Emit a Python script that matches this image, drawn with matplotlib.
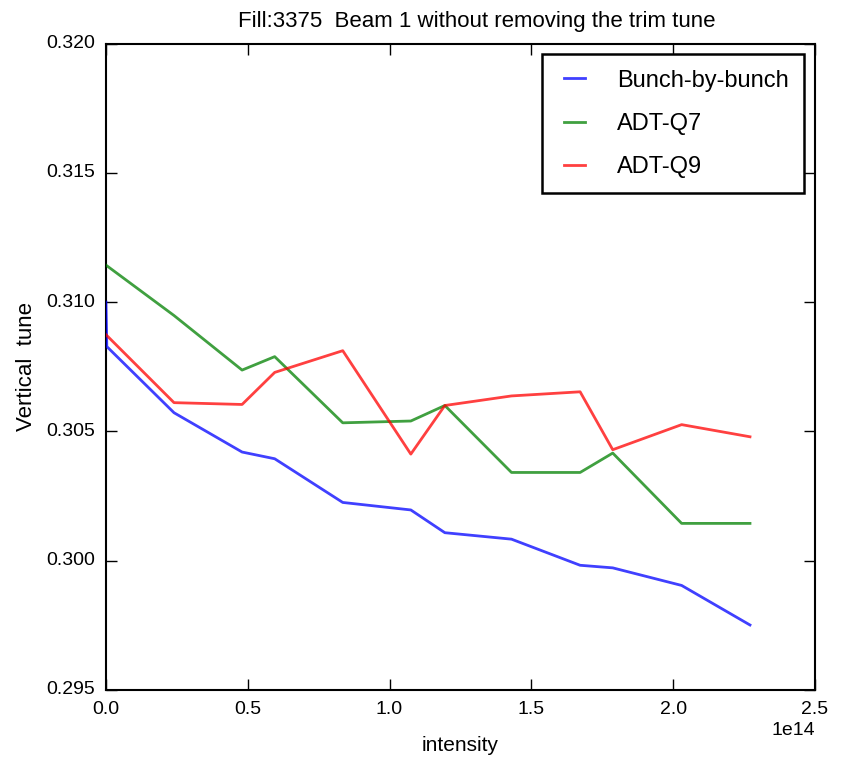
import matplotlib
matplotlib.use('Agg')
import matplotlib.pyplot as plt

plt.style.use('classic')
plt.rcParams['font.family'] = ['Liberation Sans', 'DejaVu Sans']

# intensity in units of 1e14 protons
intensity = [0.0, 0.24, 0.48, 0.595, 0.835, 1.075, 1.195, 1.43, 1.672, 1.787, 2.03, 2.271]

# bunch-by-bunch has an extra sample right at zero intensity
bbb_intensity = [0.0, 0.003] + intensity[1:]
bbb_tune = [0.3100, 0.30828, 0.30572, 0.30420, 0.30394, 0.30225, 0.30196,
            0.30108, 0.30083, 0.29982, 0.29972, 0.29904, 0.29751]
adt_q7 = [0.31143, 0.30948, 0.30737, 0.30789, 0.30533, 0.30540, 0.30600,
          0.30341, 0.30341, 0.30416, 0.30144, 0.30144]
adt_q9 = [0.30874, 0.30611, 0.30604, 0.30728, 0.30812, 0.30412, 0.30600,
          0.30637, 0.30653, 0.30429, 0.30526, 0.30479]

fig = plt.figure(figsize=(8.41, 7.64), dpi=100, facecolor='white')
ax = fig.add_axes([0.126, 0.097, 0.843, 0.846])

ax.plot([v * 1e14 for v in bbb_intensity], bbb_tune, color='b', alpha=0.75, lw=2,
        zorder=3, label='Bunch-by-bunch')
ax.plot([v * 1e14 for v in intensity], adt_q7, color='g', alpha=0.75, lw=2,
        zorder=3, label='ADT-Q7')
ax.plot([v * 1e14 for v in intensity], adt_q9, color='r', alpha=0.75, lw=2,
        zorder=3, label='ADT-Q9')

ax.set_xlim(0, 2.5e14)
ax.set_ylim(0.295, 0.320)
ax.set_yticks([0.295, 0.300, 0.305, 0.310, 0.315, 0.320])
ax.set_yticklabels(['0.295', '0.300', '0.305', '0.310', '0.315', '0.320'])
ax.tick_params(labelsize=14, length=8, width=1, pad=8)
ax.tick_params(which='minor', length=0)
ax.xaxis.get_offset_text().set_fontsize(14)
for sp in ax.spines.values():
    sp.set_linewidth(1.5)

ax.set_title('Fill:3375  Beam 1 without removing the trim tune', fontsize=16, pad=12, x=0.523)
ax.set_xlabel('intensity', fontsize=15)
ax.set_ylabel('Vertical  tune', fontsize=16)
ax.xaxis.set_label_coords(0.499, -0.072)
ax.yaxis.set_label_coords(-0.097, 0.5)

leg = ax.legend(loc='upper right', fontsize=17, handlelength=1.5, handletextpad=1.05,
                borderpad=0.65, labelspacing=0.9, borderaxespad=0.45)
leg.get_frame().set_linewidth(1.8)

fig.savefig('out.png', dpi=100, facecolor='white')
